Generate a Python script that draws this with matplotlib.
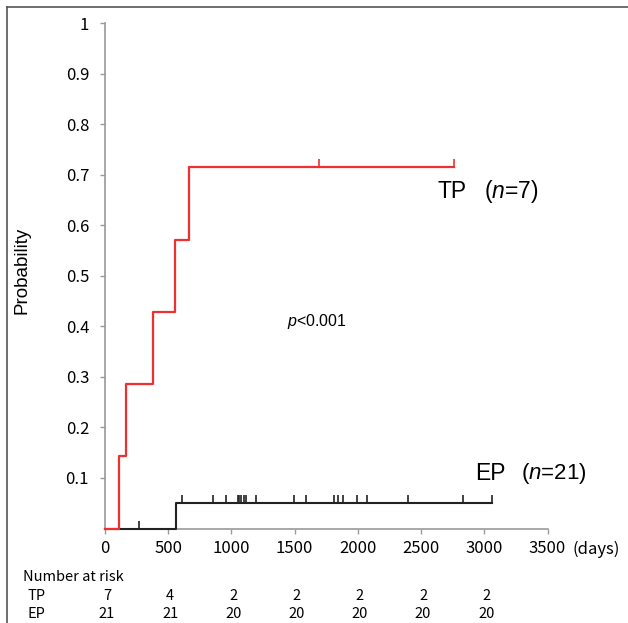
import numpy as np
import matplotlib
matplotlib.use('Agg')
import matplotlib.pyplot as plt
from matplotlib.lines import Line2D
from matplotlib.path import Path

plt.rcParams['font.family'] = ['Liberation Sans', 'DejaVu Sans']
plt.rcParams['mathtext.fontset'] = 'custom'
plt.rcParams['mathtext.rm'] = 'Liberation Sans'
plt.rcParams['mathtext.it'] = 'Liberation Sans:italic'

# -------------------------- data --------------------------
tp_event_days = [111, 164, 377, 551, 667]
tp_censor_days = [1690, 2758]
ep_event_days = [562]
ep_censor_days = [271, 612, 852, 955, 1050, 1062, 1076, 1100, 1115, 1194, 1495,
                  1588, 1811, 1846, 1885, 1991, 2075, 2395, 2830, 3064]

risk_days = [0, 500, 1000, 1500, 2000, 2500, 3000]
tp_at_risk = [7, 4, 2, 2, 2, 2, 2]
ep_at_risk = [21, 21, 20, 20, 20, 20, 20]

x_ticks = [0, 500, 1000, 1500, 2000, 2500, 3000, 3500]
y_ticks = [0.1, 0.2, 0.3, 0.4, 0.5, 0.6, 0.7, 0.8, 0.9, 1.0]
y_labels = ['0.1', '0.2', '0.3', '0.4', '0.5', '0.6', '0.7', '0.8', '0.9', '1']


def cum_incidence(events, censors):
    # Kaplan-Meier, returned as 1 - S(t)
    times = sorted(set(events) | set(censors))
    n = len(events) + len(censors)
    s = 1.0
    xs, ys = [0], [0.0]
    cx, cy = [], []
    for t in times:
        d = events.count(t)
        c = censors.count(t)
        if d:
            s *= (n - d) / n
            xs.append(t)
            ys.append(1 - s)
        if c:
            cx += [t] * c
            cy += [1 - s] * c
        n -= d + c
    xs.append(max(times))
    ys.append(1 - s)
    return xs, ys, cx, cy


# -------------------------- figure --------------------------
fig = plt.figure(figsize=(6.28, 6.23), dpi=100)
ax = fig.add_axes([105 / 628, 94.5 / 623, 442.5 / 628, 505.5 / 623])

grey = '#9a9a9a'
tick_up = Path([(0, 0), (0, 1)])

ex, ey, ecx, ecy = cum_incidence(ep_event_days, ep_censor_days)
ax.step(ex, ey, where='post', color='#222222', lw=1.5, clip_on=False, zorder=3)
ax.plot(ecx, ecy, ls='none', marker=tick_up, ms=11, mew=1.2, color='#222222',
        clip_on=False, zorder=3)

tx, ty, tcx, tcy = cum_incidence(tp_event_days, tp_censor_days)
ax.step(tx, ty, where='post', color='#f03030', lw=1.6, clip_on=False, zorder=4)
ax.plot(tcx, tcy, ls='none', marker=tick_up, ms=11, mew=1.2, color='#f03030',
        clip_on=False, zorder=4)

ax.set_xlim(0, 3500)
ax.set_ylim(0, 1)
ax.spines['top'].set_visible(False)
ax.spines['right'].set_visible(False)
for s in ('left', 'bottom'):
    ax.spines[s].set_color(grey)
    ax.spines[s].set_linewidth(1.2)

jp = ['Noto Sans CJK JP', 'DejaVu Sans']
ax.set_xticks(x_ticks)
ax.set_xticklabels([str(v) for v in x_ticks], family=jp, fontsize=12)
ax.set_yticks(y_ticks)
ax.set_yticklabels(y_labels, family=jp, fontsize=12)
ax.tick_params(axis='both', direction='out', length=3.5, width=1, color=grey)
ax.tick_params(axis='y', pad=8)
ax.tick_params(axis='x', pad=5)

# -------------------------- labels --------------------------
fig.text(22 / 628, 1 - 270 / 623, 'Probability', rotation=90, fontsize=13.5,
         ha='center', va='center')
fig.text(573 / 628, 1 - 549 / 623, '(days)', family=jp,
         fontsize=12, ha='left', va='center')
fig.text(287 / 628, 1 - 321 / 623, r'$\mathit{p}$<0.001', fontsize=11.5,
         ha='left', va='center')

fig.text(437 / 628, 1 - 192 / 623, 'TP', fontsize=16.5, ha='left', va='center')
fig.text(484 / 628, 1 - 192 / 623, r'($\mathit{n}$=7)', fontsize=16.5, ha='left', va='center')
fig.text(475 / 628, 1 - 474 / 623, 'EP', fontsize=16.5, ha='left', va='center')
fig.text(521 / 628, 1 - 474 / 623, r'($\mathit{n}$=21)', fontsize=16, ha='left', va='center')

# -------------------------- number at risk --------------------------
fig.text(23 / 628, 1 - 577 / 623, 'Number at risk', family=jp, fontsize=10.5,
         ha='left', va='center')
fig.text(28 / 628, 1 - 596 / 623, 'TP', family=jp, fontsize=10.5, ha='left', va='center')
fig.text(28 / 628, 1 - 614 / 623, 'EP', family=jp, fontsize=10.5, ha='left', va='center')
for d, a, b in zip(risk_days, tp_at_risk, ep_at_risk):
    xf = fig.transFigure.inverted().transform(ax.transData.transform((d, 0)))[0]
    fig.text(xf + 2 / 628, 1 - 596 / 623, str(a), family=jp, fontsize=10.5,
             ha='center', va='center')
    fig.text(xf + 2 / 628, 1 - 614 / 623, str(b), family=jp, fontsize=10.5,
             ha='center', va='center')

# -------------------------- frame --------------------------
fig.add_artist(Line2D([7 / 628, 7 / 628], [0, 1 - 7 / 623], color='#555555', lw=1.2))
fig.add_artist(Line2D([7 / 628, 1], [1 - 7 / 623, 1 - 7 / 623], color='#555555', lw=1.2))

fig.savefig('out.png', dpi=100)
